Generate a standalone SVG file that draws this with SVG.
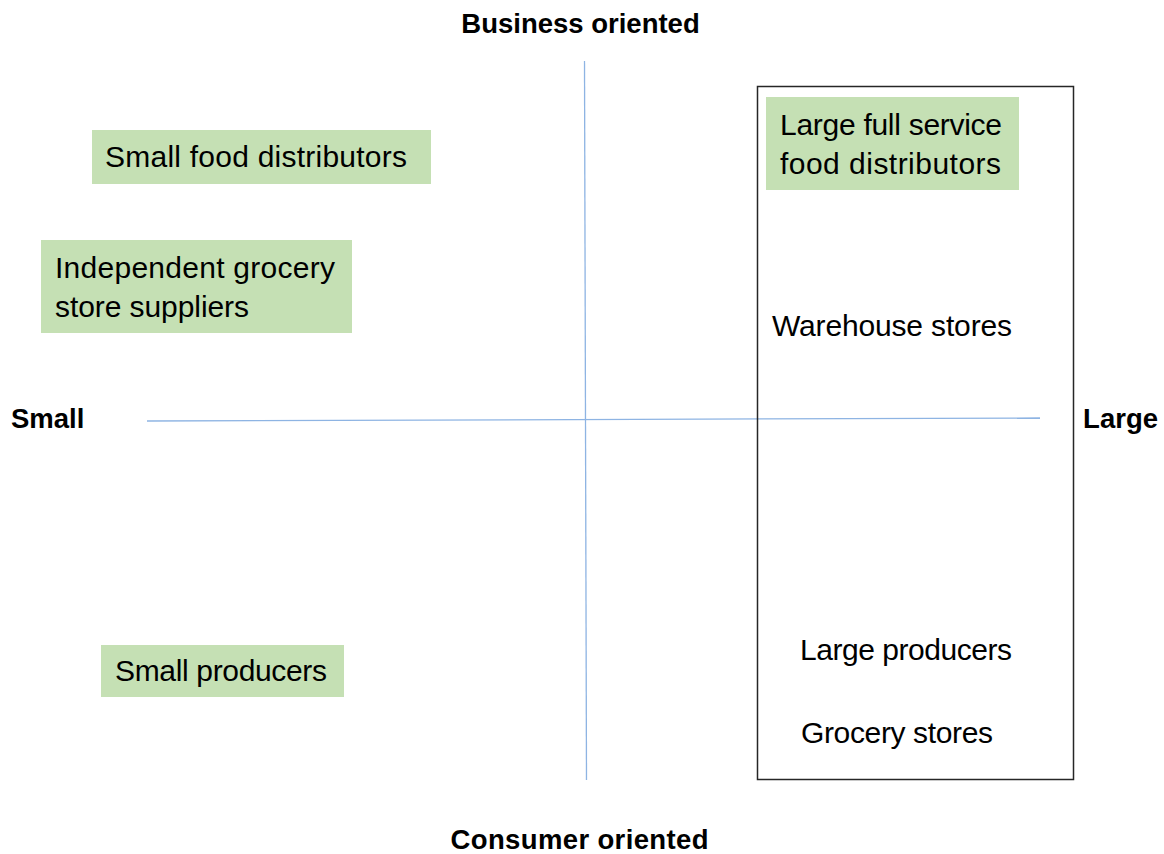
<svg xmlns="http://www.w3.org/2000/svg" width="1164" height="854" viewBox="0 0 1164 854">
  <style>
    .lbl { font-family: "Liberation Sans", Arial, sans-serif; font-size: 30px; fill: #000; }
    .axis-lbl { font-family: "Liberation Sans", Arial, sans-serif; font-size: 27.5px; font-weight: bold; fill: #000; }
    .green { fill: #C5E0B4; stroke: none; }
    .axis { stroke: #8EB4E3; stroke-width: 1.3; fill: none; }
    .frame { fill: none; stroke: #262626; stroke-width: 1.5; }
  </style>
  <rect width="1164" height="854" fill="#FFFFFF"/>

  <g id="axes">
    <line class="axis" x1="584.5" y1="61" x2="586.5" y2="780"/>
    <line class="axis" x1="147" y1="421" x2="1040" y2="418"/>
  </g>

  <g id="axis-labels">
    <text class="axis-lbl" x="580.5" y="33" text-anchor="middle">Business oriented</text>
    <text class="axis-lbl" x="579.5" y="849" text-anchor="middle" textLength="258" lengthAdjust="spacing">Consumer oriented</text>
    <text class="axis-lbl" x="11" y="428">Small</text>
    <text class="axis-lbl" x="1158" y="428" text-anchor="end">Large</text>
  </g>

  <g id="large-frame">
    <rect class="frame" x="757.5" y="86.5" width="316" height="693"/>
  </g>

  <g id="small-food-distributors">
    <rect class="green" x="92" y="130" width="339" height="54"/>
    <text class="lbl" x="105" y="167" textLength="302" lengthAdjust="spacing">Small food distributors</text>
  </g>

  <g id="independent-grocery-store-suppliers">
    <rect class="green" x="41" y="240" width="311" height="93"/>
    <text class="lbl" x="55" y="278" textLength="280" lengthAdjust="spacing">Independent grocery</text>
    <text class="lbl" x="55" y="317" textLength="194" lengthAdjust="spacing">store suppliers</text>
  </g>

  <g id="small-producers">
    <rect class="green" x="101" y="645" width="243" height="52"/>
    <text class="lbl" x="115" y="681" textLength="212" lengthAdjust="spacing">Small producers</text>
  </g>

  <g id="large-full-service-food-distributors">
    <rect class="green" x="766" y="97" width="253" height="93"/>
    <text class="lbl" x="780" y="135" textLength="222" lengthAdjust="spacing">Large full service</text>
    <text class="lbl" x="780" y="174" textLength="221" lengthAdjust="spacing">food distributors</text>
  </g>

  <g id="warehouse-stores">
    <text class="lbl" x="772" y="336" textLength="240" lengthAdjust="spacing">Warehouse stores</text>
  </g>

  <g id="large-producers">
    <text class="lbl" x="800" y="660" textLength="212" lengthAdjust="spacing">Large producers</text>
  </g>

  <g id="grocery-stores">
    <text class="lbl" x="801" y="743" textLength="192" lengthAdjust="spacing">Grocery stores</text>
  </g>
</svg>
